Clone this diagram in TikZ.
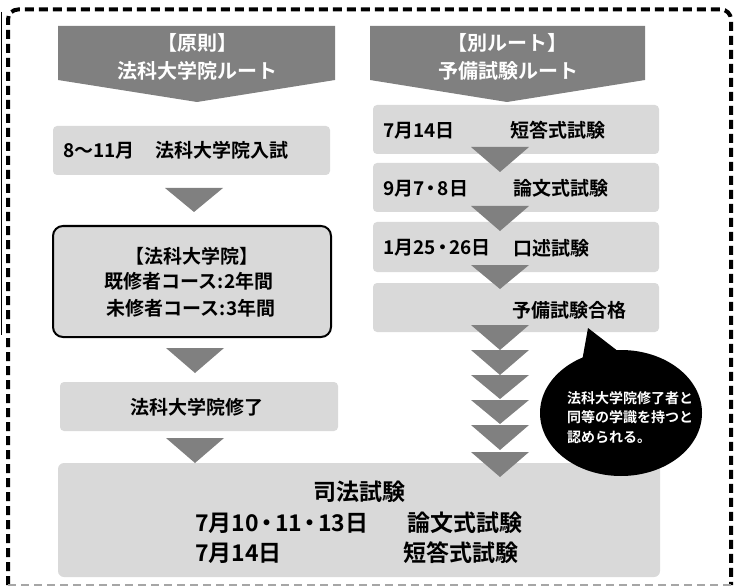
\documentclass[tikz,border=0pt]{standalone}
\usepackage{fontspec}
\setmainfont{Noto Sans CJK JP}[BoldFont={Noto Sans CJK JP Bold}]
\definecolor{hdrgray}{HTML}{808080}
\definecolor{boxgray}{HTML}{D9D9D9}
\newcommand\jsize[1]{\fontsize{#1}{#1}\selectfont\bfseries}
\newcommand\jdot{\kern-0.15em・\kern-0.15em}
\begin{document}
\begin{tikzpicture}[x=1pt,y=-1pt,
  lbox/.style={fill=boxgray, draw=none, rounded corners=4pt, inner sep=0pt},
  tri/.style={fill=hdrgray},
  hdrshape/.style={fill=hdrgray},
  hdrtxt/.style={inner sep=0pt, text=white, font=\jsize{20}},
  txt/.style={inner sep=0pt, font=\jsize{19}},
  bigtxt/.style={inner sep=0pt, font=\jsize{23}},
  calltxt/.style={inner sep=0pt, text=white, anchor=west, font=\jsize{14}},
  frame/.style={draw=black, line width=4pt, dash pattern=on 9pt off 5pt, rounded corners=10pt},
  framebottom/.style={draw=gray!70, line width=1.5pt, dash pattern=on 8pt off 5pt}]
\useasboundingbox (0,0) rectangle (736,588);

% outer frame
\coordinate (fbl) at (8,585);
\coordinate (ftl) at (8,9.5);
\coordinate (ftr) at (731,9.5);
\coordinate (fbr) at (731,585);
\draw[frame] (fbl) -- (ftl) -- (ftr) -- (fbr);
\draw[framebottom] (fbl) -- (fbr);
\coordinate (ltop) at (1,12);
\coordinate (lbot) at (1,335);
\draw[line width=1pt] (ltop) -- (lbot);

% headers
\fill[hdrshape] (58,26) -- (335,26) -- (335,80) -- (197,102) -- (58,80) -- cycle;
\fill[hdrshape] (370,26) -- (645,26) -- (645,80) -- (507,102) -- (370,80) -- cycle;
\node[hdrtxt] (h1a) at (197,43) {【原則】};
\node[hdrtxt] (h1b) at (197,71) {法科大学院ルート};
\node[hdrtxt] (h2a) at (507,43) {【別ルート】};
\node[hdrtxt] (h2b) at (508,71) {予備試験ルート};

% left column boxes
\node[lbox, minimum width=277pt, minimum height=49pt] (b1) at (191.5,150.5) {};
\node[lbox, draw=black, line width=2pt, rounded corners=10pt, minimum width=278pt, minimum height=111pt] (b2) at (192,281.5) {};
\node[lbox, minimum width=278pt, minimum height=49pt] (b3) at (199,406.5) {};
\node[lbox, rounded corners=6pt, minimum width=602pt, minimum height=114pt] (b4) at (359,520) {};

% right column boxes
\node[lbox, minimum width=286pt, minimum height=49pt] (r1) at (516,129.5) {};
\node[lbox, minimum width=286pt, minimum height=49pt] (r2) at (516,187.5) {};
\node[lbox, minimum width=286pt, minimum height=50pt] (r3) at (516,247) {};
\node[lbox, minimum width=286pt, minimum height=49pt] (r4) at (516,307.5) {};

% left texts
\node[txt, anchor=west] (t1a) at (63,150.5) {8～11月};
\node[txt, anchor=west] (t1b) at (155,150.5) {法科大学院入試};
\node[txt] (t2a) at (192,256) {【法科大学院】};
\node[txt] (t2b) at (189,281) {既修者コース:2年間};
\node[txt] (t2c) at (191,308) {未修者コース:3年間};
\node[txt] (t3) at (197,407) {法科大学院修了};

% right texts
\node[txt, anchor=west] (r1a) at (383,130.5) {7月14日};
\node[txt, anchor=west] (r1b) at (510,130.5) {短答式試験};
\node[txt, anchor=west] (r2a) at (383,188.5) {9月7\jdot 8日};
\node[txt, anchor=west] (r2b) at (513,188.5) {論文式試験};
\node[txt, anchor=west] (r3a) at (383,248) {1月25\jdot 26日};
\node[txt, anchor=west] (r3b) at (513,248) {口述試験};
\node[txt, anchor=west] (r4b) at (512,310) {予備試験合格};

% bottom texts
\node[bigtxt] (s0) at (359,492) {司法試験};
\node[bigtxt, anchor=west] (s1a) at (195,523) {7月10\jdot 11\jdot 13日};
\node[bigtxt, anchor=west] (s1b) at (407,523) {論文式試験};
\node[bigtxt, anchor=west] (s2a) at (195,553) {7月14日};
\node[bigtxt, anchor=west] (s2b) at (403,553) {短答式試験};

% left triangles
\fill[tri] (165,188) -- (223,188) -- (194,212) -- cycle;
\fill[tri] (166,348) -- (224,348) -- (195,373) -- cycle;
\fill[tri] (166,438) -- (224,438) -- (195,463) -- cycle;

% right triangles
\foreach \yt/\yb in {147/172, 206/231, 265/289, 325/350, 350/375, 375/399, 400/424, 425/450, 452/477}
  \fill[tri] (471,\yt) -- (529,\yt) -- (500,\yb) -- cycle;

% callout
\fill (621,413) ellipse [x radius=81pt, y radius=63pt];
\coordinate (tip) at (588,328);
\fill (tip) -- (579,378) -- (632,362) -- cycle;
\node[calltxt] (c1) at (567,398) {法科大学院修了者と};
\node[calltxt] (c2) at (567,417.5) {同等の学識を持つと};
\node[calltxt] (c3) at (567,437) {認められる。};
\end{tikzpicture}
\end{document}
